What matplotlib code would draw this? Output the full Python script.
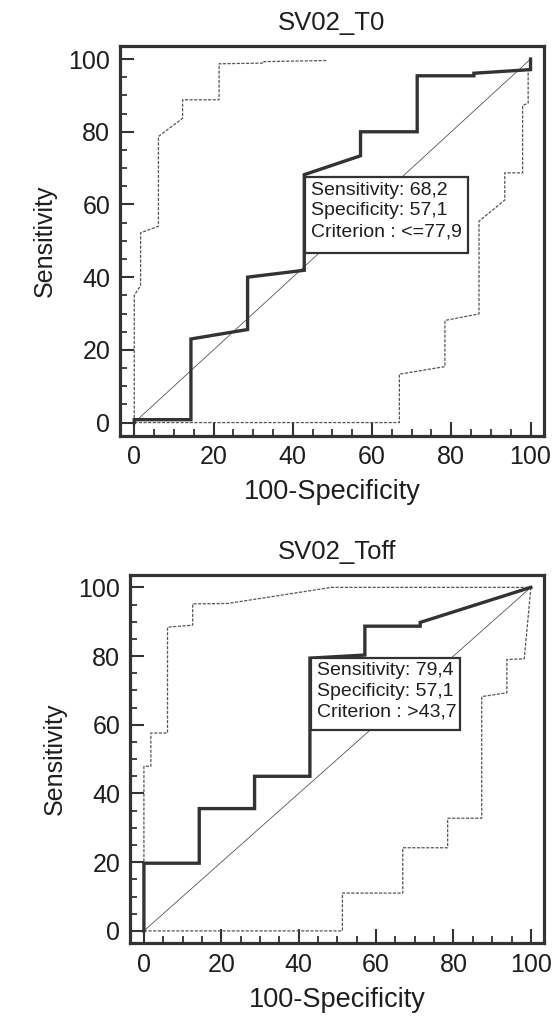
import numpy as np
import matplotlib
matplotlib.use("Agg")
import matplotlib.pyplot as plt
from matplotlib.patches import Rectangle

plt.rcParams['font.family'] = ['Liberation Sans', 'DejaVu Sans']

# ROC SV02_T0 : courbe, bornes de l'intervalle de confiance
t0_fpr = [0, 0, 14.3, 14.3, 28.6, 28.6, 42.9, 42.9, 57.1, 57.1, 71.4, 71.4, 85.7, 85.7, 100, 100]
t0_sens = [0, 0.8, 0.8, 23.0, 25.6, 40.0, 41.9, 68.2, 73.4, 80.0, 80.0, 95.4, 95.4, 96.1, 97.1, 100]
t0_up_x = [0, 0, 1.6, 1.6, 6.1, 6.1, 12.2, 12.2, 21.4, 21.4, 32.7, 32.7, 48.5]
t0_up_y = [0, 35.0, 37.7, 52.2, 54.0, 78.7, 83.7, 88.8, 88.8, 98.7, 98.9, 99.3, 99.6]
t0_lo_x = [0, 66.9, 66.9, 78.4, 78.4, 87.0, 87.0, 93.5, 93.5, 98.0, 98.0, 99.4, 99.4, 100]
t0_lo_y = [0, 0, 13.3, 15.4, 28.1, 29.9, 55.4, 61.2, 68.7, 68.7, 87.2, 87.9, 97.0, 97.0]
t0_text = "Sensitivity: 68,2\nSpecificity: 57,1\nCriterion : <=77,9"

# ROC SV02_Toff
toff_fpr = [0, 0, 14.3, 14.3, 28.6, 28.6, 42.9, 42.9, 57.1, 57.1, 71.4, 71.4, 100]
toff_sens = [0, 19.7, 19.7, 35.6, 35.6, 45.0, 45.0, 79.4, 80.3, 88.7, 88.7, 89.8, 100]
toff_up_x = [0, 0, 1.8, 1.8, 6.1, 6.1, 12.6, 12.6, 21.6, 48.5, 100]
toff_up_y = [0, 47.9, 47.9, 57.6, 57.6, 88.4, 89.0, 95.2, 95.3, 100, 100]
toff_lo_x = [0, 51.3, 51.3, 66.9, 66.9, 78.5, 78.5, 87.3, 87.3, 93.8, 93.8, 98.3, 100]
toff_lo_y = [0, 0, 11.0, 11.0, 24.2, 24.2, 32.8, 32.8, 68.2, 69.3, 79.0, 79.2, 100]
toff_text = "Sensitivity: 79,4\nSpecificity: 57,1\nCriterion : >43,7"

dark = '#333333'
txt = '#1e1e1e'


def roc_panel(ax, title, fpr, sens, up_x, up_y, lo_x, lo_y, label, box, text_xy):
    ax.plot([0, 100], [0, 100], color='#555555', lw=0.6, zorder=1)
    ax.plot(up_x, up_y, color='#555555', lw=0.9, ls=(0, (2.5, 1.2)), zorder=2)
    ax.plot(lo_x, lo_y, color='#555555', lw=0.9, ls=(0, (2.5, 1.2)), zorder=2)
    ax.plot(fpr, sens, color=dark, lw=2.4, zorder=3, solid_joinstyle='miter')

    x0, y0, x1, y1 = box
    ax.add_patch(Rectangle((x0, y0), x1 - x0, y1 - y0, facecolor='white',
                           edgecolor=dark, lw=1.6, zorder=4))
    ax.text(text_xy[0], text_xy[1], label, fontsize=14, color=txt, va='top',
            ha='left', linespacing=1.3, zorder=5)

    ax.set_xlim(-3.6, 103.4)
    ax.set_ylim(-3.6, 103.7)
    ax.set_xticks(np.arange(0, 101, 20))
    ax.set_yticks(np.arange(0, 101, 20))
    ax.set_xticks(np.arange(0, 101, 5), minor=True)
    ax.set_yticks(np.arange(0, 101, 5), minor=True)
    ax.tick_params(which='major', direction='in', length=10, width=1.5,
                   color=dark, labelsize=18, labelcolor=txt, pad=7)
    ax.tick_params(which='minor', direction='in', length=5, width=1.3, color=dark)
    for s in ax.spines.values():
        s.set_linewidth(2.3)
        s.set_color(dark)
    ax.set_xlabel('100-Specificity', fontsize=19.5, color=txt, labelpad=7)
    ax.set_ylabel('Sensitivity', fontsize=18, color=txt, labelpad=8)
    ax.set_title(title, fontsize=18.5, color=txt, pad=11)


fig = plt.figure(figsize=(5.55, 10.16), dpi=100)
ax1 = fig.add_axes([0.2162, 0.5712, 0.764, 0.3839])
ax2 = fig.add_axes([0.2342, 0.0716, 0.746, 0.3628])

roc_panel(ax1, 'SV02_T0', t0_fpr, t0_sens, t0_up_x, t0_up_y, t0_lo_x, t0_lo_y,
          t0_text, (43.1, 46.7, 84.3, 67.6), (44.5, 66.3))
roc_panel(ax2, 'SV02_Toff', toff_fpr, toff_sens, toff_up_x, toff_up_y, toff_lo_x, toff_lo_y,
          toff_text, (43.1, 58.6, 81.7, 79.5), (44.7, 78.3))

fig.savefig('out.png', dpi=100)
